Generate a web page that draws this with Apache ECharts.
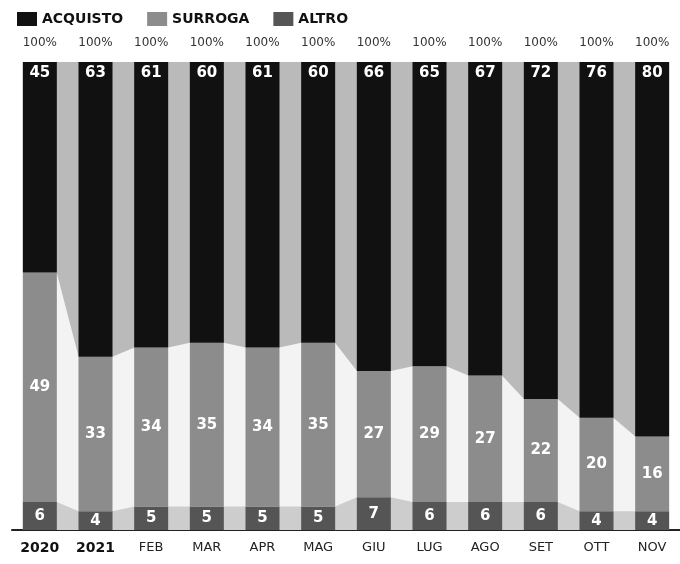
<!DOCTYPE html>
<html><head><meta charset="utf-8">
<script src="https://cdn.jsdelivr.net/npm/echarts@6/dist/echarts.min.js"></script>
<style>html,body{margin:0;padding:0;background:#fff}#c{width:680px;height:564px}</style>
</head><body><div id="c"></div>
<script>
const categories = ['2020','2021','FEB','MAR','APR','MAG','GIU','LUG','AGO','SET','OTT','NOV'];
const acquisto = [45,63,61,60,61,60,66,65,67,72,76,80];
const surroga  = [49,33,34,35,34,35,27,29,27,22,20,16];
const altro    = [6,4,5,5,5,5,7,6,6,6,4,4];

const FONT = 'DejaVu Sans';
const totals = categories.map((c,i)=>acquisto[i]+surroga[i]+altro[i]);
const topLabels = totals.map(t=>t+'%');
const halfBar = 17/56.08;

function edgePoints(vals){
  const pts=[];
  vals.forEach((v,i)=>{pts.push([i-halfBar,v]);pts.push([i+halfBar,v]);});
  return pts;
}
const cumTop = totals;
const cumMid = surroga.map((s,i)=>s+altro[i]);
const cumLow = altro;

function areaSeries(name, vals, color){
  return {name, type:'line', xAxisIndex:1, yAxisIndex:0, data:edgePoints(vals),
    smooth:false, symbol:'none', silent:true, z:1,
    lineStyle:{width:0}, areaStyle:{color, opacity:1}};
}
const barLabel = (pos, dist)=>({show:true, position:pos, distance:dist, color:'#fff',
  fontFamily:FONT, fontWeight:'bold', fontSize:15});

const chart = echarts.init(document.getElementById('c'));
chart.setOption({
  animation:false,
  textStyle:{fontFamily:FONT},
  legend:{data:['ACQUISTO','SURROGA','ALTRO'], left:12, top:7, itemWidth:20, itemHeight:14, itemGap:24,
    icon:'rect', textStyle:{fontFamily:FONT, fontWeight:'bold', fontSize:14, color:'#111'}},
  grid:{left:12, right:-5, top:62, bottom:34},
  xAxis:[
    {type:'category', data:categories, position:'bottom', axisTick:{show:false},
     axisLine:{lineStyle:{color:'#222', width:2}},
     axisLabel:{interval:0, margin:11, fontSize:13, color:'#222', fontFamily:FONT,
       formatter:(v,i)=> i<2 ? '{b|'+v+'}' : v,
       rich:{b:{fontWeight:'bold', fontSize:14, color:'#111', fontFamily:FONT}}}},
    {type:'value', min:-0.5, max:11.5, show:false},
    {type:'category', data:topLabels, position:'top', axisTick:{show:false}, axisLine:{show:false},
     axisLabel:{interval:0, margin:13, fontSize:12, color:'#333', fontFamily:FONT}}
  ],
  yAxis:{type:'value', min:0, max:100, show:false},
  series:[
    areaSeries('a_conn', cumTop, '#bababa'),
    areaSeries('s_conn', cumMid, '#f3f3f3'),
    areaSeries('o_conn', cumLow, '#cdcdcd'),
    {name:'ALTRO', type:'bar', stack:'t', data:altro, barWidth:34, z:3,
     itemStyle:{color:'#555555'}, label:barLabel('inside',0)},
    {name:'SURROGA', type:'bar', stack:'t', data:surroga, barWidth:34, z:3,
     itemStyle:{color:'#8c8c8c'}, label:barLabel('inside',0)},
    {name:'ACQUISTO', type:'bar', stack:'t', data:acquisto, barWidth:34, z:3,
     itemStyle:{color:'#111111'}, label:barLabel('insideTop',4)}
  ]
});
</script></body></html>
